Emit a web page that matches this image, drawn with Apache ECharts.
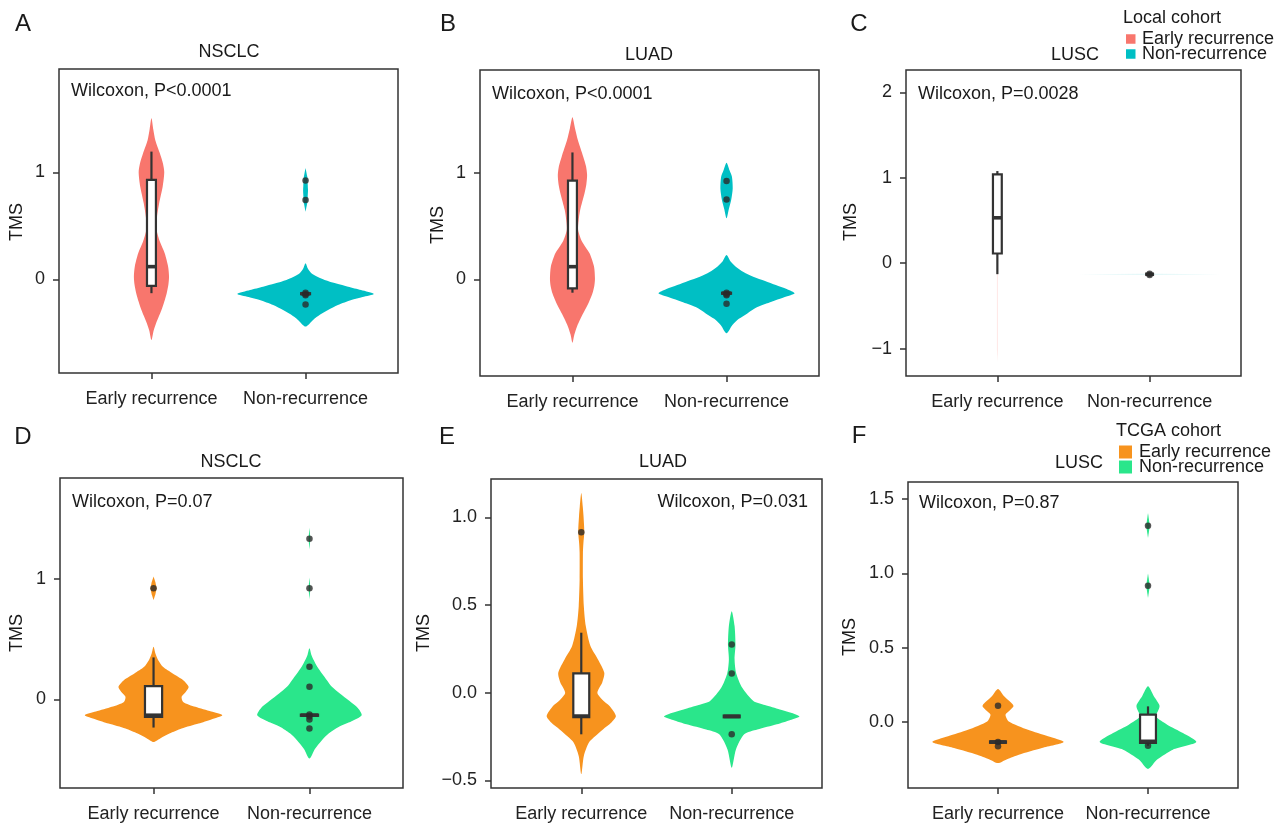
<!DOCTYPE html>
<html>
<head>
<meta charset="utf-8">
<script src="https://cdn.jsdelivr.net/npm/echarts@6/dist/echarts.min.js"></script>
<style>
html, body { margin: 0; padding: 0; background: #fff; }
#main { width: 1284px; height: 825px; }
</style>
</head>
<body>
<div id="main"></div>
<script>
// groups on the x axis (positions 1 and 2)
var groups = ['Early recurrence', 'Non-recurrence'];
var panelTitles = ['NSCLC', 'LUAD', 'LUSC', 'NSCLC', 'LUAD', 'LUSC'];
var panelLetters = ['A', 'B', 'C', 'D', 'E', 'F'];
var pTexts = ['Wilcoxon, P<0.0001', 'Wilcoxon, P<0.0001', 'Wilcoxon, P=0.0028',
  'Wilcoxon, P=0.07', 'Wilcoxon, P=0.031', 'Wilcoxon, P=0.87'];

// y ticks and their labels
var yTicksA = [0, 1], yLabelsA = ['0', '1'];
var yTicksB = [0, 1], yLabelsB = ['0', '1'];
var yTicksC = [-1, 0, 1, 2], yLabelsC = ['\u22121', '0', '1', '2'];
var yTicksD = [0, 1], yLabelsD = ['0', '1'];
var yTicksE = [-0.5, 0, 0.5, 1], yLabelsE = ['\u22120.5', '0.0', '0.5', '1.0'];
var yTicksF = [0, 0.5, 1, 1.5], yLabelsF = ['0.0', '0.5', '1.0', '1.5'];

// violin outlines: pieces of [TMS, half width in x units]
var violinA_early = [[[1.505, 0], [1.40, 0.012], [1.30, 0.025], [1.18, 0.054], [1.08, 0.075], [1.0, 0.083], [0.866, 0.073], [0.71, 0.05], [0.58, 0.036], [0.46, 0.034], [0.35, 0.055], [0.243, 0.086], [0.12, 0.108], [0.025, 0.114], [-0.05, 0.11], [-0.13, 0.099], [-0.21, 0.083], [-0.287, 0.065], [-0.35, 0.047], [-0.41, 0.03], [-0.48, 0.014], [-0.567, 0]]];
var violinA_non = [
  [[1.04, 0], [0.95, 0.012], [0.83, 0.016], [0.72, 0.012], [0.63, 0]],
  [[0.15, 0], [0.10, 0.015], [0.056, 0.038], [0.02, 0.08], [-0.006, 0.124], [-0.04, 0.2], [-0.069, 0.276], [-0.10, 0.36], [-0.137, 0.443], [-0.165, 0.37], [-0.193, 0.297], [-0.24, 0.21], [-0.287, 0.146], [-0.33, 0.095], [-0.38, 0.049], [-0.442, 0]]
];
var violinB_early = [[[1.519, 0], [1.42, 0.016], [1.306, 0.035], [1.15, 0.07], [1.06, 0.088], [0.978, 0.095], [0.89, 0.09], [0.806, 0.078], [0.65, 0.05], [0.55, 0.04], [0.4625, 0.037], [0.36, 0.06], [0.244, 0.111], [0.12, 0.14], [0.009, 0.146], [-0.06, 0.142], [-0.131, 0.13], [-0.21, 0.108], [-0.288, 0.081], [-0.37, 0.052], [-0.444, 0.029], [-0.52, 0.012], [-0.594, 0]]];
var violinB_non = [
  [[1.094, 0], [1.02, 0.02], [0.9625, 0.035], [0.853, 0.04], [0.744, 0.03], [0.66, 0.015], [0.572, 0]],
  [[0.228, 0], [0.17, 0.025], [0.119, 0.06], [0.07, 0.11], [0.025, 0.173], [-0.015, 0.25], [-0.053, 0.32], [-0.09, 0.39], [-0.131, 0.442], [-0.17, 0.37], [-0.209, 0.292], [-0.26, 0.2], [-0.319, 0.135], [-0.37, 0.08], [-0.428, 0.038], [-0.506, 0]]
];
var violinC_early = [[[1.07, 0], [1.0, 0.003], [0, 0.003], [-1.0, 0.003], [-1.156, 0]]];
var violinC_non = [[[-0.125, 0], [-0.13, 0.465], [-0.135, 0]]];
var violinD_early = [
  [[1.017, 0], [0.97, 0.012], [0.92, 0.02], [0.87, 0.012], [0.823, 0]],
  [[0.436, 0], [0.38, 0.012], [0.326, 0.029], [0.27, 0.06], [0.215, 0.123], [0.16, 0.19], [0.105, 0.225], [0.06, 0.205], [0.022, 0.18], [-0.02, 0.19], [-0.061, 0.268], [-0.10, 0.37], [-0.13, 0.441], [-0.165, 0.37], [-0.199, 0.289], [-0.24, 0.18], [-0.282, 0.102], [-0.32, 0.045], [-0.351, 0]]
];
var violinD_non = [
  [[1.42, 0], [1.33, 0.006], [1.24, 0]],
  [[1.01, 0], [0.92, 0.006], [0.83, 0]],
  [[0.423, 0], [0.37, 0.012], [0.326, 0.027], [0.27, 0.05], [0.215, 0.08], [0.16, 0.112], [0.105, 0.144], [0.05, 0.195], [-0.006, 0.251], [-0.07, 0.31], [-0.13, 0.335], [-0.18, 0.27], [-0.227, 0.187], [-0.28, 0.125], [-0.337, 0.08], [-0.41, 0.035], [-0.489, 0]]
];
var violinE_early = [[[1.138, 0], [1.06, 0.01], [1.006, 0.015], [0.917, 0.02], [0.85, 0.014], [0.797, 0.011], [0.645, 0.011], [0.493, 0.017], [0.38, 0.03], [0.266, 0.061], [0.19, 0.111], [0.114, 0.153], [0.06, 0.14], [0, 0.107], [-0.04, 0.14], [-0.076, 0.188], [-0.133, 0.23], [-0.17, 0.2], [-0.209, 0.144], [-0.25, 0.09], [-0.285, 0.05], [-0.36, 0.017], [-0.465, 0]]];
var violinE_non = [[[0.465, 0], [0.38, 0.019], [0.275, 0.025], [0.19, 0.019], [0.11, 0.03], [0.028, 0.07], [-0.047, 0.144], [-0.07, 0.22], [-0.095, 0.32], [-0.115, 0.40], [-0.135, 0.45], [-0.155, 0.39], [-0.18, 0.3], [-0.21, 0.17], [-0.237, 0.083], [-0.323, 0.028], [-0.427, 0]]];
var violinF_early = [[[0.222, 0], [0.173, 0.041], [0.11, 0.103], [0.075, 0.075], [0.049, 0.05], [0.004, 0.072], [-0.052, 0.2], [-0.096, 0.333], [-0.135, 0.438], [-0.175, 0.293], [-0.22, 0.139], [-0.25, 0.06], [-0.276, 0]]];
var violinF_non = [
  [[1.406, 0], [1.32, 0.012], [1.238, 0]],
  [[0.998, 0], [0.917, 0.012], [0.834, 0]],
  [[0.24, 0], [0.173, 0.039], [0.11, 0.077], [0.07, 0.065], [0.038, 0.05], [-0.018, 0.128], [-0.074, 0.233], [-0.135, 0.322], [-0.186, 0.166], [-0.253, 0.061], [-0.316, 0]]
];

// box stats: [lower whisker, Q1, median, Q3, upper whisker]
var boxA_early = [-0.13, -0.062, 0.118, 0.928, 1.193], boxA_non = [-0.14, -0.14, -0.135, -0.13, -0.13];
var boxB_early = [-0.125, -0.084, 0.119, 0.925, 1.19], boxB_non = [-0.135, -0.135, -0.13, -0.125, -0.125];
var boxC_early = [-0.129, 0.113, 0.531, 1.039, 1.078], boxC_non = [-0.13, -0.13, -0.13, -0.13, -0.13];
var boxD_early = [-0.232, -0.144, -0.13, 0.11, 0.348], boxD_non = [-0.135, -0.135, -0.13, -0.125, -0.125];
var boxE_early = [-0.237, -0.139, -0.133, 0.11, 0.342], boxE_non = [-0.14, -0.14, -0.135, -0.13, -0.13];
var boxF_early = [-0.14, -0.14, -0.135, -0.13, -0.13], boxF_non = [-0.16, -0.141, -0.13, 0.049, 0.105];

// single points
var dotsA_early = [], dotsA_non = [0.922, 0.741, -0.125, -0.14, -0.15, -0.237];
var dotsB_early = [], dotsB_non = [0.923, 0.748, -0.125, -0.14, -0.15, -0.228];
var dotsC_early = [], dotsC_non = [-0.125, -0.14];
var dotsD_early = [0.92], dotsD_non = [1.329, 0.92, 0.271, 0.105, -0.125, -0.14, -0.166, -0.24];
var dotsE_early = [0.915], dotsE_non = [0.275, 0.11, -0.237];
var dotsF_early = [0.11, -0.135, -0.164], dotsF_non = [1.32, 0.917, -0.16];

var localColors = ['#F8766D', '#00BFC4'];
var tcgaColors = ['#F7931E', '#2AE68B'];
var FONT = '"Liberation Sans", Helvetica, Arial, sans-serif';
var INK = '#333333';

var panels = [
  { grid: [59, 69, 339, 304], y: [-0.876, 1.965], ticks: yTicksA, labels: yLabelsA, violins: [violinA_early, violinA_non], boxes: [boxA_early, boxA_non], dots: [dotsA_early, dotsA_non], colors: localColors, fade: [1, 1], boxHalf: 0.029, title: [229, 52], letter: [23, 24], yName: [17, 222], p: [71, 91, 'left'] },
  { grid: [480, 70, 339, 306], y: [-0.906, 1.963], ticks: yTicksB, labels: yLabelsB, violins: [violinB_early, violinB_non], boxes: [boxB_early, boxB_non], dots: [dotsB_early, dotsB_non], colors: localColors, fade: [1, 1], boxHalf: 0.029, title: [649, 55], letter: [448, 24], yName: [438, 225], p: [492, 94, 'left'] },
  { grid: [906, 70, 335, 306], y: [-1.321, 2.261], ticks: yTicksC, labels: yLabelsC, violins: [violinC_early, violinC_non], boxes: [boxC_early, boxC_non], dots: [dotsC_early, dotsC_non], colors: localColors, fade: [0.2, 0.15], boxHalf: 0.029, title: [1075, 55], letter: [859, 24], yName: [851, 222], p: [918, 94, 'left'] },
  { grid: [60, 478, 343, 310], y: [-0.732, 1.832], ticks: yTicksD, labels: yLabelsD, violins: [violinD_early, violinD_non], boxes: [boxD_early, boxD_non], dots: [dotsD_early, dotsD_non], colors: tcgaColors, fade: [1, 1], boxHalf: 0.055, title: [231, 462], letter: [23, 437], yName: [17, 633], p: [72, 502, 'left'] },
  { grid: [491, 479, 331, 309], y: [-0.543, 1.218], ticks: yTicksE, labels: yLabelsE, violins: [violinE_early, violinE_non], boxes: [boxE_early, boxE_non], dots: [dotsE_early, dotsE_non], colors: tcgaColors, fade: [1, 1], boxHalf: 0.053, title: [663, 462], letter: [447, 437], yName: [424, 633], p: [808, 502, 'right'] },
  { grid: [908, 482, 330, 306], y: [-0.444, 1.614], ticks: yTicksF, labels: yLabelsF, violins: [violinF_early, violinF_non], boxes: [boxF_early, boxF_non], dots: [dotsF_early, dotsF_non], colors: tcgaColors, fade: [1, 1], boxHalf: 0.053, title: [1079, 463], letter: [859, 436], yName: [850, 637], p: [919, 503, 'left'] }
];

function violinRender(pieces, color, opacity) {
  return function (params, api) {
    var seg = pieces[params.dataIndex];
    var x = api.value(0);
    var pts = [];
    for (var i = 0; i < seg.length; i++) pts.push(api.coord([x + seg[i][1], seg[i][0]]));
    for (var j = seg.length - 2; j > 0; j--) pts.push(api.coord([x - seg[j][1], seg[j][0]]));
    return {
      type: 'polygon', silent: true,
      shape: { points: pts, smooth: seg.length > 5 ? 0.25 : 0 },
      style: { fill: color, opacity: opacity }
    };
  };
}

function boxRender(half) {
  return function (params, api) {
    var x = api.value(0);
    var lo = api.coord([x, api.value(1)]);
    var q1 = api.coord([x, api.value(2)]);
    var md = api.coord([x, api.value(3)]);
    var q3 = api.coord([x, api.value(4)]);
    var hi = api.coord([x, api.value(5)]);
    var l = api.coord([x - half, api.value(3)])[0];
    var r = api.coord([x + half, api.value(3)])[0];
    var line = { stroke: INK, lineWidth: 2.2 };
    return {
      type: 'group', silent: true,
      children: [
        { type: 'line', shape: { x1: lo[0], y1: lo[1], x2: q1[0], y2: q1[1] }, style: line },
        { type: 'line', shape: { x1: q3[0], y1: q3[1], x2: hi[0], y2: hi[1] }, style: line },
        { type: 'rect', shape: { x: l, y: q3[1], width: r - l, height: q1[1] - q3[1] }, style: { fill: '#fff', stroke: INK, lineWidth: 2.2 } },
        { type: 'line', shape: { x1: l, y1: md[1], x2: r, y2: md[1] }, style: { stroke: INK, lineWidth: 3.6 } }
      ]
    };
  };
}

var option = {
  animation: false,
  backgroundColor: '#fff',
  textStyle: { fontFamily: FONT },
  grid: [], xAxis: [], yAxis: [], series: [], graphic: []
};

panels.forEach(function (pn, k) {
  option.grid.push({
    left: pn.grid[0], top: pn.grid[1], width: pn.grid[2], height: pn.grid[3],
    show: true, borderColor: INK, borderWidth: 1.5, backgroundColor: 'transparent'
  });
  option.xAxis.push({
    type: 'value', gridIndex: k, min: 0.4, max: 2.6, position: 'bottom',
    splitLine: { show: false }, axisLine: { show: false, onZero: false },
    axisTick: { show: true, length: 6, customValues: [1, 2], lineStyle: { color: INK, width: 1.5 } },
    axisLabel: {
      customValues: [1, 2], margin: 17, color: '#222', fontSize: 18, fontFamily: FONT,
      formatter: function (v) { return groups[Math.round(v) - 1]; }
    }
  });
  option.yAxis.push({
    type: 'value', gridIndex: k, min: pn.y[0], max: pn.y[1], position: 'left',
    splitLine: { show: false }, axisLine: { show: false, onZero: false },
    axisTick: { show: true, length: 6, customValues: pn.ticks, lineStyle: { color: INK, width: 1.5 } },
    axisLabel: {
      customValues: pn.ticks, margin: 14, color: '#222', fontSize: 18, fontFamily: FONT,
      formatter: function (v) {
        for (var i = 0; i < pn.ticks.length; i++) if (Math.abs(pn.ticks[i] - v) < 1e-6) return pn.labels[i];
        return '';
      }
    }
  });

  [0, 1].forEach(function (g) {
    var gx = g + 1;
    option.series.push({
      type: 'custom', xAxisIndex: k, yAxisIndex: k, z: 2,
      renderItem: violinRender(pn.violins[g], pn.colors[g], pn.fade[g]),
      data: pn.violins[g].map(function (seg) { return [gx, seg[0][0]]; })
    });
    option.series.push({
      type: 'custom', xAxisIndex: k, yAxisIndex: k, z: 3,
      renderItem: boxRender(pn.boxHalf),
      encode: { x: 0, y: [1, 2, 3, 4, 5] },
      data: [[gx].concat(pn.boxes[g])]
    });
    option.series.push({
      type: 'scatter', xAxisIndex: k, yAxisIndex: k, z: 4, silent: true,
      symbolSize: 6.5, itemStyle: { color: '#2a2a2a' },
      data: pn.dots[g].map(function (v) { return [gx, v]; })
    });
  });

  option.graphic.push(
    { type: 'text', x: pn.title[0], y: pn.title[1], style: { text: panelTitles[k], font: '18px ' + FONT, fill: '#1a1a1a', align: 'center', verticalAlign: 'middle' } },
    { type: 'text', x: pn.letter[0], y: pn.letter[1], style: { text: panelLetters[k], font: '24px ' + FONT, fill: '#1a1a1a', align: 'center', verticalAlign: 'middle' } },
    { type: 'text', x: pn.yName[0], y: pn.yName[1], rotation: Math.PI / 2, style: { text: 'TMS', font: '18px ' + FONT, fill: '#1a1a1a', align: 'center', verticalAlign: 'middle' } },
    { type: 'text', x: pn.p[0], y: pn.p[1], style: { text: pTexts[k], font: '18px ' + FONT, fill: '#1a1a1a', align: pn.p[2], verticalAlign: 'middle' } }
  );
});

// legends
function legend(title, colors, tx, ty, kx, ky, size, step, lx) {
  var els = [{ type: 'text', x: tx, y: ty, style: { text: title, font: '18px ' + FONT, fill: '#1a1a1a', align: 'left', verticalAlign: 'middle' } }];
  groups.forEach(function (name, i) {
    els.push({ type: 'rect', shape: { x: kx, y: ky + i * step - size / 2, width: size, height: size }, style: { fill: colors[i] } });
    els.push({ type: 'text', x: lx, y: ky + i * step, style: { text: name, font: '18px ' + FONT, fill: '#1a1a1a', align: 'left', verticalAlign: 'middle' } });
  });
  return els;
}
option.graphic = option.graphic
  .concat(legend('Local cohort', localColors, 1123, 18, 1126, 39, 9.5, 15, 1142))
  .concat(legend('TCGA cohort', tcgaColors, 1116, 431, 1119, 452, 13, 15, 1139));

var chart = echarts.init(document.getElementById('main'));
chart.setOption(option);
</script>
</body>
</html>
